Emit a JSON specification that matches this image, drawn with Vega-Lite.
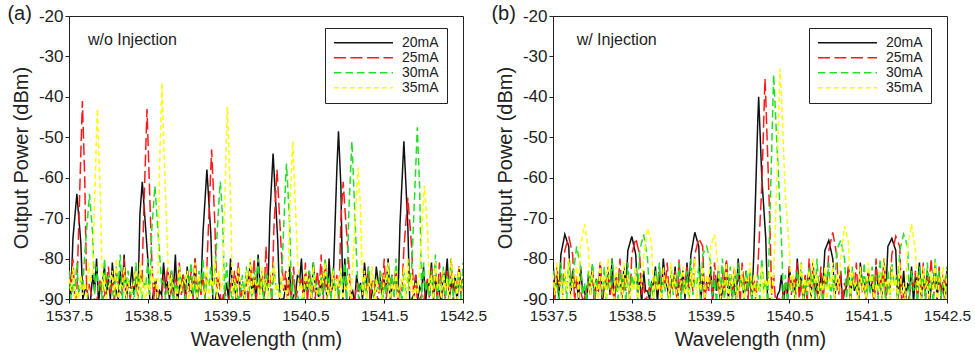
{
"$schema":"https://vega.github.io/schema/vega-lite/v6.json",
"padding":{"left":6,"top":3,"right":0,"bottom":0},
"bounds":"flush",
"spacing":90,
"config":{"font":"Liberation Sans","view":{"stroke":"#222","strokeWidth":1},
"axis":{"grid":false,"domainColor":"#222","tickColor":"#222","labelColor":"#222","titleColor":"#222","labelFontSize":16,"titleFontSize":20,"titleFontWeight":"normal","tickSize":4,"labelPadding":2,"labelFlush":false},
"legend":{"orient":"none","legendX":256,"legendY":12,"fillColor":"white","strokeColor":"#222","padding":8,"symbolType":"stroke","symbolSize":3481,"symbolStrokeWidth":1.5,"labelFontSize":14,"rowPadding":0,"clipHeight":13.5,"labelOffset":8,"labelColor":"#222"},
"title":{"fontSize":20,"fontWeight":"normal","anchor":"start","frame":"bounds","baseline":"middle","offset":0,"color":"#222"}},
"resolve":{"legend":{"color":"independent","strokeDash":"independent"}},
"datasets":{
"a":[
{"x":1537.50,"20mA":-82,"25mA":-84,"30mA":-83,"35mA":-85},
{"x":1537.55,"20mA":-75,"25mA":-80,"30mA":-86,"35mA":-82},
{"x":1537.60,"20mA":-64,"25mA":-88,"30mA":-81,"35mA":-88},
{"x":1537.65,"20mA":-76,"25mA":-54,"30mA":-85,"35mA":-84},
{"x":1537.70,"20mA":-88,"25mA":-60.5,"30mA":-78.8,"35mA":-86},
{"x":1537.75,"20mA":-91,"25mA":-86,"30mA":-66.5,"35mA":-81},
{"x":1537.80,"20mA":-84,"25mA":-90,"30mA":-73.8,"35mA":-83},
{"x":1537.85,"20mA":-80,"25mA":-91,"30mA":-82,"35mA":-48.7},
{"x":1537.90,"20mA":-86,"25mA":-85,"30mA":-86,"35mA":-65.8},
{"x":1537.95,"20mA":-82,"25mA":-89,"30mA":-80,"35mA":-84},
{"x":1538.00,"20mA":-85,"25mA":-82,"30mA":-84,"35mA":-87},
{"x":1538.05,"20mA":-81,"25mA":-86,"30mA":-88,"35mA":-83},
{"x":1538.10,"20mA":-88,"25mA":-83,"30mA":-82,"35mA":-80},
{"x":1538.15,"20mA":-83,"25mA":-88,"30mA":-79,"35mA":-86},
{"x":1538.20,"20mA":-79,"25mA":-80,"30mA":-85,"35mA":-82},
{"x":1538.25,"20mA":-86,"25mA":-85,"30mA":-83,"35mA":-85},
{"x":1538.30,"20mA":-82,"25mA":-87,"30mA":-87,"35mA":-88},
{"x":1538.35,"20mA":-84,"25mA":-82,"30mA":-81,"35mA":-83},
{"x":1538.40,"20mA":-69,"25mA":-84,"30mA":-84,"35mA":-81},
{"x":1538.45,"20mA":-66.4,"25mA":-67.7,"30mA":-86,"35mA":-84},
{"x":1538.50,"20mA":-80,"25mA":-49.2,"30mA":-80,"35mA":-86},
{"x":1538.55,"20mA":-91,"25mA":-80,"30mA":-73,"35mA":-82},
{"x":1538.60,"20mA":-85,"25mA":-86,"30mA":-64.8,"35mA":-85},
{"x":1538.65,"20mA":-88,"25mA":-90,"30mA":-79,"35mA":-56.5},
{"x":1538.70,"20mA":-81,"25mA":-84,"30mA":-85,"35mA":-49.9},
{"x":1538.75,"20mA":-86,"25mA":-82,"30mA":-88,"35mA":-78},
{"x":1538.80,"20mA":-83,"25mA":-88,"30mA":-83,"35mA":-84},
{"x":1538.85,"20mA":-79,"25mA":-85,"30mA":-86,"35mA":-87},
{"x":1538.90,"20mA":-87,"25mA":-81,"30mA":-82,"35mA":-82},
{"x":1538.95,"20mA":-84,"25mA":-84,"30mA":-89,"35mA":-85},
{"x":1539.00,"20mA":-82,"25mA":-87,"30mA":-84,"35mA":-83},
{"x":1539.05,"20mA":-88,"25mA":-83,"30mA":-81,"35mA":-86},
{"x":1539.10,"20mA":-80,"25mA":-80,"30mA":-86,"35mA":-81},
{"x":1539.15,"20mA":-85,"25mA":-86,"30mA":-83,"35mA":-84},
{"x":1539.20,"20mA":-73.7,"25mA":-84,"30mA":-80,"35mA":-88},
{"x":1539.25,"20mA":-58,"25mA":-82,"30mA":-85,"35mA":-82},
{"x":1539.30,"20mA":-74,"25mA":-57.5,"30mA":-82,"35mA":-85},
{"x":1539.35,"20mA":-91,"25mA":-71,"30mA":-84,"35mA":-80},
{"x":1539.40,"20mA":-89,"25mA":-84,"30mA":-66.8,"35mA":-83},
{"x":1539.45,"20mA":-90,"25mA":-90,"30mA":-69.8,"35mA":-86},
{"x":1539.50,"20mA":-86,"25mA":-91,"30mA":-81,"35mA":-48.3},
{"x":1539.55,"20mA":-80,"25mA":-86,"30mA":-88,"35mA":-65.5},
{"x":1539.60,"20mA":-86,"25mA":-83,"30mA":-86,"35mA":-85},
{"x":1539.65,"20mA":-82,"25mA":-81,"30mA":-90,"35mA":-82},
{"x":1539.70,"20mA":-88,"25mA":-88,"30mA":-84,"35mA":-87},
{"x":1539.75,"20mA":-84,"25mA":-85,"30mA":-82,"35mA":-83},
{"x":1539.80,"20mA":-81,"25mA":-82,"30mA":-87,"35mA":-80},
{"x":1539.85,"20mA":-85,"25mA":-80,"30mA":-83,"35mA":-84},
{"x":1539.90,"20mA":-79,"25mA":-86,"30mA":-80,"35mA":-86},
{"x":1539.95,"20mA":-86,"25mA":-83,"30mA":-85,"35mA":-82},
{"x":1540.00,"20mA":-84,"25mA":-77,"30mA":-83,"35mA":-85},
{"x":1540.05,"20mA":-69,"25mA":-84,"30mA":-86,"35mA":-83},
{"x":1540.10,"20mA":-57.7,"25mA":-72.7,"30mA":-82,"35mA":-81},
{"x":1540.15,"20mA":-76,"25mA":-61.7,"30mA":-88,"35mA":-86},
{"x":1540.20,"20mA":-90,"25mA":-80,"30mA":-84,"35mA":-84},
{"x":1540.25,"20mA":-87,"25mA":-83,"30mA":-60.1,"35mA":-88},
{"x":1540.30,"20mA":-82,"25mA":-86,"30mA":-71,"35mA":-68.8},
{"x":1540.35,"20mA":-89,"25mA":-82,"30mA":-85,"35mA":-55.5},
{"x":1540.40,"20mA":-84,"25mA":-88,"30mA":-89,"35mA":-80},
{"x":1540.45,"20mA":-80,"25mA":-85,"30mA":-90,"35mA":-86},
{"x":1540.50,"20mA":-86,"25mA":-81,"30mA":-87,"35mA":-83},
{"x":1540.55,"20mA":-83,"25mA":-84,"30mA":-83,"35mA":-85},
{"x":1540.60,"20mA":-81,"25mA":-87,"30mA":-81,"35mA":-82},
{"x":1540.65,"20mA":-88,"25mA":-83,"30mA":-86,"35mA":-88},
{"x":1540.70,"20mA":-85,"25mA":-79,"30mA":-84,"35mA":-84},
{"x":1540.75,"20mA":-82,"25mA":-80,"30mA":-80,"35mA":-81},
{"x":1540.80,"20mA":-80,"25mA":-86,"30mA":-85,"35mA":-86},
{"x":1540.85,"20mA":-87,"25mA":-82,"30mA":-82,"35mA":-83},
{"x":1540.90,"20mA":-57.5,"25mA":-84,"30mA":-86,"35mA":-85},
{"x":1540.95,"20mA":-62,"25mA":-70.5,"30mA":-83,"35mA":-82},
{"x":1541.00,"20mA":-80,"25mA":-67.3,"30mA":-81,"35mA":-87},
{"x":1541.05,"20mA":-91,"25mA":-81,"30mA":-68.8,"35mA":-84},
{"x":1541.10,"20mA":-88,"25mA":-90,"30mA":-55.5,"35mA":-82},
{"x":1541.15,"20mA":-84,"25mA":-86,"30mA":-80,"35mA":-64.4},
{"x":1541.20,"20mA":-86,"25mA":-91,"30mA":-86,"35mA":-67.9},
{"x":1541.25,"20mA":-81,"25mA":-84,"30mA":-84,"35mA":-83},
{"x":1541.30,"20mA":-83,"25mA":-82,"30mA":-82,"35mA":-86},
{"x":1541.35,"20mA":-88,"25mA":-85,"30mA":-88,"35mA":-82},
{"x":1541.40,"20mA":-82,"25mA":-88,"30mA":-85,"35mA":-85},
{"x":1541.45,"20mA":-85,"25mA":-83,"30mA":-83,"35mA":-88},
{"x":1541.50,"20mA":-84,"25mA":-80,"30mA":-86,"35mA":-84},
{"x":1541.55,"20mA":-80,"25mA":-86,"30mA":-81,"35mA":-81},
{"x":1541.60,"20mA":-86,"25mA":-84,"30mA":-84,"35mA":-86},
{"x":1541.65,"20mA":-83,"25mA":-82,"30mA":-80,"35mA":-83},
{"x":1541.70,"20mA":-71.7,"25mA":-87,"30mA":-87,"35mA":-85},
{"x":1541.75,"20mA":-51,"25mA":-77.5,"30mA":-83,"35mA":-82},
{"x":1541.80,"20mA":-72,"25mA":-65,"30mA":-85,"35mA":-80},
{"x":1541.85,"20mA":-90,"25mA":-77.5,"30mA":-82,"35mA":-84},
{"x":1541.90,"20mA":-84,"25mA":-84,"30mA":-57.5,"35mA":-86},
{"x":1541.95,"20mA":-87,"25mA":-90,"30mA":-62.5,"35mA":-83},
{"x":1542.00,"20mA":-82,"25mA":-91,"30mA":-81,"35mA":-64.8},
{"x":1542.05,"20mA":-86,"25mA":-85,"30mA":-86,"35mA":-73},
{"x":1542.10,"20mA":-81,"25mA":-82,"30mA":-83,"35mA":-84},
{"x":1542.15,"20mA":-85,"25mA":-84,"30mA":-79,"35mA":-81},
{"x":1542.20,"20mA":-88,"25mA":-81,"30mA":-85,"35mA":-86},
{"x":1542.25,"20mA":-83,"25mA":-86,"30mA":-82,"35mA":-83},
{"x":1542.30,"20mA":-80,"25mA":-83,"30mA":-84,"35mA":-85},
{"x":1542.35,"20mA":-86,"25mA":-80,"30mA":-80,"35mA":-80},
{"x":1542.40,"20mA":-84,"25mA":-85,"30mA":-86,"35mA":-84},
{"x":1542.45,"20mA":-82,"25mA":-82,"30mA":-83,"35mA":-82},
{"x":1542.50,"20mA":-85,"25mA":-84,"30mA":-81,"35mA":-86},
{"x":1538.43,"20mA":-61},{"x":1540.09,"20mA":-54},{"x":1540.92,"20mA":-48.5},
{"x":1537.67,"25mA":-41},{"x":1538.49,"25mA":-43},{"x":1539.31,"25mA":-53},{"x":1540.14,"25mA":-58},{"x":1540.98,"25mA":-61},
{"x":1537.76,"30mA":-64},{"x":1538.59,"30mA":-62},{"x":1539.42,"30mA":-61},{"x":1540.26,"30mA":-56.5},{"x":1541.09,"30mA":-51},{"x":1541.92,"30mA":-47.5},
{"x":1537.86,"35mA":-43},{"x":1538.68,"35mA":-36.5},{"x":1539.51,"35mA":-42.5},{"x":1540.34,"35mA":-51},{"x":1541.17,"35mA":-57.5},{"x":1542.01,"35mA":-62},
{"x":1537.525,"20mA":-89,"25mA":-87,"30mA":-90,"35mA":-88},
{"x":1537.575,"25mA":-91,"30mA":-88,"35mA":-90},
{"x":1537.625,"30mA":-89,"35mA":-91},
{"x":1537.675,"20mA":-90,"30mA":-87,"35mA":-89},
{"x":1537.725,"20mA":-87,"25mA":-89,"35mA":-90},
{"x":1537.775,"20mA":-90,"25mA":-88,"35mA":-86},
{"x":1537.825,"20mA":-88,"25mA":-90,"30mA":-89},
{"x":1537.875,"20mA":-91,"25mA":-87,"30mA":-88},
{"x":1537.925,"20mA":-86,"25mA":-90,"30mA":-91,"35mA":-88},
{"x":1537.975,"20mA":-89,"25mA":-86,"30mA":-87,"35mA":-90},
{"x":1538.025,"20mA":-90,"25mA":-89,"30mA":-88,"35mA":-86},
{"x":1538.075,"20mA":-87,"25mA":-91,"30mA":-90,"35mA":-89},
{"x":1538.125,"20mA":-90,"25mA":-86,"30mA":-87,"35mA":-91},
{"x":1538.175,"20mA":-88,"25mA":-89,"30mA":-90,"35mA":-87},
{"x":1538.225,"20mA":-91,"25mA":-88,"30mA":-86,"35mA":-90},
{"x":1538.275,"20mA":-87,"25mA":-90,"30mA":-89,"35mA":-88},
{"x":1538.325,"20mA":-89,"25mA":-87,"30mA":-91,"35mA":-86},
{"x":1538.375,"20mA":-90,"25mA":-89,"30mA":-88,"35mA":-90},
{"x":1538.425,"25mA":-86,"30mA":-90,"35mA":-89},
{"x":1538.475,"30mA":-87,"35mA":-91},
{"x":1538.525,"20mA":-90,"30mA":-89,"35mA":-88},
{"x":1538.575,"20mA":-88,"25mA":-90,"35mA":-87},
{"x":1538.625,"20mA":-91,"25mA":-88,"35mA":-90},
{"x":1538.675,"20mA":-89,"25mA":-91,"30mA":-86},
{"x":1538.725,"20mA":-87,"25mA":-89,"30mA":-90},
{"x":1538.775,"20mA":-90,"25mA":-86,"30mA":-88,"35mA":-89},
{"x":1538.825,"20mA":-88,"25mA":-90,"30mA":-91,"35mA":-87},
{"x":1538.875,"20mA":-91,"25mA":-87,"30mA":-89,"35mA":-90},
{"x":1538.925,"20mA":-86,"25mA":-89,"30mA":-87,"35mA":-88},
{"x":1538.975,"20mA":-90,"25mA":-91,"30mA":-90,"35mA":-86},
{"x":1539.025,"20mA":-88,"25mA":-88,"30mA":-86,"35mA":-91},
{"x":1539.075,"20mA":-89,"25mA":-90,"30mA":-89,"35mA":-87},
{"x":1539.125,"20mA":-91,"25mA":-87,"30mA":-91,"35mA":-90},
{"x":1539.175,"20mA":-87,"25mA":-89,"30mA":-88,"35mA":-88},
{"x":1539.225,"25mA":-90,"30mA":-90,"35mA":-89},
{"x":1539.275,"30mA":-87,"35mA":-91},
{"x":1539.325,"20mA":-90,"30mA":-89,"35mA":-87},
{"x":1539.375,"20mA":-88,"25mA":-88,"35mA":-90},
{"x":1539.425,"20mA":-91,"25mA":-90,"35mA":-88},
{"x":1539.475,"20mA":-89,"25mA":-87,"30mA":-90},
{"x":1539.525,"20mA":-90,"25mA":-91,"30mA":-88},
{"x":1539.575,"20mA":-87,"25mA":-89,"30mA":-91,"35mA":-89},
{"x":1539.625,"20mA":-91,"25mA":-86,"30mA":-87,"35mA":-90},
{"x":1539.675,"20mA":-88,"25mA":-90,"30mA":-89,"35mA":-87},
{"x":1539.725,"20mA":-90,"25mA":-88,"30mA":-91,"35mA":-91},
{"x":1539.775,"20mA":-86,"25mA":-91,"30mA":-88,"35mA":-88},
{"x":1539.825,"20mA":-89,"25mA":-87,"30mA":-90,"35mA":-90},
{"x":1539.875,"20mA":-91,"25mA":-90,"30mA":-86,"35mA":-87},
{"x":1539.925,"20mA":-87,"25mA":-88,"30mA":-89,"35mA":-91},
{"x":1539.975,"20mA":-90,"25mA":-90,"30mA":-91,"35mA":-88},
{"x":1540.025,"20mA":-88,"25mA":-87,"30mA":-88,"35mA":-90},
{"x":1540.075,"25mA":-91,"30mA":-90,"35mA":-86},
{"x":1540.125,"30mA":-87,"35mA":-89},
{"x":1540.175,"20mA":-91,"30mA":-89,"35mA":-91},
{"x":1540.225,"20mA":-90,"25mA":-88,"35mA":-88},
{"x":1540.275,"20mA":-88,"25mA":-91,"35mA":-90},
{"x":1540.325,"20mA":-91,"25mA":-89,"30mA":-90},
{"x":1540.375,"20mA":-89,"25mA":-90,"30mA":-91},
{"x":1540.425,"20mA":-86,"25mA":-87,"30mA":-91,"35mA":-88},
{"x":1540.475,"20mA":-90,"25mA":-89,"30mA":-90,"35mA":-91},
{"x":1540.525,"20mA":-88,"25mA":-91,"30mA":-88,"35mA":-87},
{"x":1540.575,"20mA":-91,"25mA":-86,"30mA":-90,"35mA":-90},
{"x":1540.625,"20mA":-87,"25mA":-90,"30mA":-87,"35mA":-88},
{"x":1540.675,"20mA":-90,"25mA":-88,"30mA":-91,"35mA":-91},
{"x":1540.725,"20mA":-89,"25mA":-91,"30mA":-89,"35mA":-86},
{"x":1540.775,"20mA":-91,"25mA":-87,"30mA":-86,"35mA":-90},
{"x":1540.825,"20mA":-88,"25mA":-90,"30mA":-90,"35mA":-88},
{"x":1540.875,"25mA":-88,"30mA":-88,"35mA":-91},
{"x":1540.925,"25mA":-91,"30mA":-91,"35mA":-87},
{"x":1540.975,"20mA":-90,"30mA":-87,"35mA":-90},
{"x":1541.025,"20mA":-91,"30mA":-90,"35mA":-88},
{"x":1541.075,"20mA":-89,"25mA":-90,"35mA":-91},
{"x":1541.125,"20mA":-91,"25mA":-91},
{"x":1541.175,"20mA":-88,"25mA":-89,"30mA":-90},
{"x":1541.225,"20mA":-90,"25mA":-91,"30mA":-88,"35mA":-89},
{"x":1541.275,"20mA":-87,"25mA":-88,"30mA":-91,"35mA":-90},
{"x":1541.325,"20mA":-91,"25mA":-90,"30mA":-87,"35mA":-87},
{"x":1541.375,"20mA":-89,"25mA":-87,"30mA":-90,"35mA":-91},
{"x":1541.425,"20mA":-86,"25mA":-91,"30mA":-88,"35mA":-88},
{"x":1541.475,"20mA":-90,"25mA":-88,"30mA":-91,"35mA":-90},
{"x":1541.525,"20mA":-88,"25mA":-90,"30mA":-89,"35mA":-86},
{"x":1541.575,"20mA":-91,"25mA":-86,"30mA":-87,"35mA":-91},
{"x":1541.625,"20mA":-87,"25mA":-89,"30mA":-90,"35mA":-88},
{"x":1541.675,"20mA":-90,"25mA":-91,"30mA":-88,"35mA":-90},
{"x":1541.725,"25mA":-88,"30mA":-91,"35mA":-87},
{"x":1541.775,"30mA":-89,"35mA":-91},
{"x":1541.825,"20mA":-91,"30mA":-86,"35mA":-88},
{"x":1541.875,"20mA":-89,"25mA":-90,"35mA":-90},
{"x":1541.925,"20mA":-90,"25mA":-91,"35mA":-89},
{"x":1541.975,"20mA":-88,"25mA":-89,"30mA":-90},
{"x":1542.025,"20mA":-91,"25mA":-87,"30mA":-88},
{"x":1542.075,"20mA":-87,"25mA":-90,"30mA":-91,"35mA":-88},
{"x":1542.125,"20mA":-90,"25mA":-88,"30mA":-87,"35mA":-91},
{"x":1542.175,"20mA":-88,"25mA":-91,"30mA":-90,"35mA":-87},
{"x":1542.225,"20mA":-91,"25mA":-86,"30mA":-88,"35mA":-90},
{"x":1542.275,"20mA":-86,"25mA":-90,"30mA":-91,"35mA":-88},
{"x":1542.325,"20mA":-90,"25mA":-88,"30mA":-87,"35mA":-91},
{"x":1542.375,"20mA":-88,"25mA":-91,"30mA":-90,"35mA":-86},
{"x":1542.425,"20mA":-91,"25mA":-87,"30mA":-88,"35mA":-90},
{"x":1542.475,"20mA":-87,"25mA":-90,"30mA":-91,"35mA":-88}
],
"b":[
{"x":1537.50,"20mA":-81,"25mA":-85,"30mA":-83,"35mA":-84},
{"x":1537.55,"20mA":-84,"25mA":-82,"30mA":-86,"35mA":-81},
{"x":1537.60,"20mA":-79,"25mA":-86,"30mA":-81,"35mA":-86},
{"x":1537.65,"20mA":-74,"25mA":-78,"30mA":-84,"35mA":-83},
{"x":1537.70,"20mA":-77,"25mA":-74.5,"30mA":-80,"35mA":-80},
{"x":1537.75,"20mA":-83,"25mA":-79,"30mA":-85,"35mA":-85},
{"x":1537.80,"20mA":-86,"25mA":-84,"30mA":-77,"35mA":-82},
{"x":1537.85,"20mA":-82,"25mA":-88,"30mA":-82,"35mA":-77},
{"x":1537.90,"20mA":-88,"25mA":-90,"30mA":-86,"35mA":-71.5},
{"x":1537.95,"20mA":-84,"25mA":-86,"30mA":-83,"35mA":-78},
{"x":1538.00,"20mA":-82,"25mA":-83,"30mA":-81,"35mA":-83},
{"x":1538.05,"20mA":-85,"25mA":-87,"30mA":-85,"35mA":-86},
{"x":1538.10,"20mA":-81,"25mA":-81,"30mA":-88,"35mA":-81},
{"x":1538.15,"20mA":-87,"25mA":-85,"30mA":-82,"35mA":-84},
{"x":1538.20,"20mA":-83,"25mA":-82,"30mA":-84,"35mA":-80},
{"x":1538.25,"20mA":-80,"25mA":-86,"30mA":-80,"35mA":-87},
{"x":1538.30,"20mA":-86,"25mA":-84,"30mA":-86,"35mA":-82},
{"x":1538.35,"20mA":-84,"25mA":-80,"30mA":-83,"35mA":-85},
{"x":1538.40,"20mA":-82,"25mA":-85,"30mA":-85,"35mA":-81},
{"x":1538.45,"20mA":-78,"25mA":-83,"30mA":-81,"35mA":-84},
{"x":1538.50,"20mA":-74.5,"25mA":-79,"30mA":-84,"35mA":-86},
{"x":1538.55,"20mA":-79,"25mA":-75,"30mA":-82,"35mA":-82},
{"x":1538.60,"20mA":-85,"25mA":-79,"30mA":-78,"35mA":-85},
{"x":1538.65,"20mA":-83,"25mA":-86,"30mA":-74,"35mA":-80},
{"x":1538.70,"20mA":-88,"25mA":-89,"30mA":-80,"35mA":-72.5},
{"x":1538.75,"20mA":-86,"25mA":-91,"30mA":-86,"35mA":-76},
{"x":1538.80,"20mA":-82,"25mA":-85,"30mA":-83,"35mA":-84},
{"x":1538.85,"20mA":-84,"25mA":-82,"30mA":-81,"35mA":-86},
{"x":1538.90,"20mA":-80,"25mA":-84,"30mA":-85,"35mA":-82},
{"x":1538.95,"20mA":-87,"25mA":-81,"30mA":-88,"35mA":-85},
{"x":1539.00,"20mA":-85,"25mA":-86,"30mA":-82,"35mA":-81},
{"x":1539.05,"20mA":-82,"25mA":-83,"30mA":-84,"35mA":-84},
{"x":1539.10,"20mA":-86,"25mA":-80,"30mA":-81,"35mA":-87},
{"x":1539.15,"20mA":-83,"25mA":-85,"30mA":-86,"35mA":-82},
{"x":1539.20,"20mA":-81,"25mA":-82,"30mA":-83,"35mA":-86},
{"x":1539.25,"20mA":-79,"25mA":-84,"30mA":-80,"35mA":-83},
{"x":1539.30,"20mA":-73.5,"25mA":-79,"30mA":-85,"35mA":-80},
{"x":1539.35,"20mA":-77,"25mA":-75,"30mA":-82,"35mA":-85},
{"x":1539.40,"20mA":-84,"25mA":-77,"30mA":-79,"35mA":-82},
{"x":1539.45,"20mA":-86,"25mA":-86,"30mA":-77,"35mA":-84},
{"x":1539.50,"20mA":-82,"25mA":-84,"30mA":-81,"35mA":-77},
{"x":1539.55,"20mA":-85,"25mA":-81,"30mA":-85,"35mA":-74},
{"x":1539.60,"20mA":-83,"25mA":-86,"30mA":-83,"35mA":-83},
{"x":1539.65,"20mA":-88,"25mA":-83,"30mA":-80,"35mA":-86},
{"x":1539.70,"20mA":-81,"25mA":-80,"30mA":-86,"35mA":-81},
{"x":1539.75,"20mA":-84,"25mA":-85,"30mA":-82,"35mA":-84},
{"x":1539.80,"20mA":-86,"25mA":-82,"30mA":-84,"35mA":-82},
{"x":1539.85,"20mA":-80,"25mA":-84,"30mA":-81,"35mA":-87},
{"x":1539.90,"20mA":-85,"25mA":-81,"30mA":-85,"35mA":-83},
{"x":1539.95,"20mA":-83,"25mA":-86,"30mA":-83,"35mA":-85},
{"x":1540.00,"20mA":-84,"25mA":-83,"30mA":-82,"35mA":-81},
{"x":1540.05,"20mA":-78,"25mA":-85,"30mA":-86,"35mA":-84},
{"x":1540.10,"20mA":-45,"25mA":-82,"30mA":-84,"35mA":-86},
{"x":1540.15,"20mA":-60,"25mA":-62,"30mA":-80,"35mA":-82},
{"x":1540.20,"20mA":-75,"25mA":-40,"30mA":-85,"35mA":-85},
{"x":1540.25,"20mA":-90,"25mA":-70,"30mA":-72,"35mA":-83},
{"x":1540.30,"20mA":-91,"25mA":-84,"30mA":-34.5,"35mA":-84},
{"x":1540.35,"20mA":-89,"25mA":-90,"30mA":-55,"35mA":-55},
{"x":1540.40,"20mA":-84,"25mA":-91,"30mA":-76,"35mA":-40},
{"x":1540.45,"20mA":-86,"25mA":-86,"30mA":-84,"35mA":-65},
{"x":1540.50,"20mA":-82,"25mA":-82,"30mA":-86,"35mA":-78},
{"x":1540.55,"20mA":-85,"25mA":-85,"30mA":-88,"35mA":-84},
{"x":1540.60,"20mA":-80,"25mA":-81,"30mA":-83,"35mA":-86},
{"x":1540.65,"20mA":-84,"25mA":-86,"30mA":-81,"35mA":-81},
{"x":1540.70,"20mA":-87,"25mA":-84,"30mA":-85,"35mA":-85},
{"x":1540.75,"20mA":-83,"25mA":-80,"30mA":-82,"35mA":-83},
{"x":1540.80,"20mA":-81,"25mA":-83,"30mA":-84,"35mA":-80},
{"x":1540.85,"20mA":-86,"25mA":-87,"30mA":-80,"35mA":-84},
{"x":1540.90,"20mA":-84,"25mA":-82,"30mA":-86,"35mA":-86},
{"x":1540.95,"20mA":-78,"25mA":-85,"30mA":-83,"35mA":-82},
{"x":1541.00,"20mA":-75.5,"25mA":-78,"30mA":-81,"35mA":-85},
{"x":1541.05,"20mA":-80,"25mA":-73.5,"30mA":-85,"35mA":-81},
{"x":1541.10,"20mA":-85,"25mA":-79,"30mA":-78,"35mA":-84},
{"x":1541.15,"20mA":-83,"25mA":-84,"30mA":-75.5,"35mA":-80},
{"x":1541.20,"20mA":-88,"25mA":-86,"30mA":-80,"35mA":-72},
{"x":1541.25,"20mA":-82,"25mA":-82,"30mA":-84,"35mA":-76},
{"x":1541.30,"20mA":-84,"25mA":-85,"30mA":-82,"35mA":-83},
{"x":1541.35,"20mA":-86,"25mA":-81,"30mA":-86,"35mA":-86},
{"x":1541.40,"20mA":-81,"25mA":-84,"30mA":-83,"35mA":-82},
{"x":1541.45,"20mA":-85,"25mA":-87,"30mA":-81,"35mA":-85},
{"x":1541.50,"20mA":-83,"25mA":-83,"30mA":-85,"35mA":-81},
{"x":1541.55,"20mA":-86,"25mA":-85,"30mA":-82,"35mA":-84},
{"x":1541.60,"20mA":-82,"25mA":-80,"30mA":-84,"35mA":-86},
{"x":1541.65,"20mA":-84,"25mA":-84,"30mA":-80,"35mA":-83},
{"x":1541.70,"20mA":-80,"25mA":-82,"30mA":-86,"35mA":-80},
{"x":1541.75,"20mA":-77,"25mA":-86,"30mA":-83,"35mA":-85},
{"x":1541.80,"20mA":-75,"25mA":-79,"30mA":-81,"35mA":-82},
{"x":1541.85,"20mA":-78,"25mA":-74.5,"30mA":-85,"35mA":-84},
{"x":1541.90,"20mA":-85,"25mA":-77,"30mA":-78,"35mA":-81},
{"x":1541.95,"20mA":-83,"25mA":-89,"30mA":-74,"35mA":-86},
{"x":1542.00,"20mA":-86,"25mA":-91,"30mA":-77,"35mA":-77},
{"x":1542.05,"20mA":-82,"25mA":-86,"30mA":-83,"35mA":-71.5},
{"x":1542.10,"20mA":-84,"25mA":-83,"30mA":-86,"35mA":-78},
{"x":1542.15,"20mA":-81,"25mA":-85,"30mA":-82,"35mA":-84},
{"x":1542.20,"20mA":-85,"25mA":-81,"30mA":-84,"35mA":-82},
{"x":1542.25,"20mA":-83,"25mA":-84,"30mA":-81,"35mA":-86},
{"x":1542.30,"20mA":-87,"25mA":-80,"30mA":-85,"35mA":-83},
{"x":1542.35,"20mA":-82,"25mA":-86,"30mA":-80,"35mA":-81},
{"x":1542.40,"20mA":-84,"25mA":-82,"30mA":-83,"35mA":-85},
{"x":1542.45,"20mA":-86,"25mA":-84,"30mA":-86,"35mA":-82},
{"x":1542.50,"20mA":-83,"25mA":-83,"30mA":-82,"35mA":-84},
{"x":1540.11,"20mA":-40},{"x":1540.19,"25mA":-35.5},{"x":1540.38,"35mA":-33},
{"x":1537.525,"20mA":-88,"25mA":-90,"30mA":-87,"35mA":-89},
{"x":1537.575,"20mA":-90,"25mA":-87,"30mA":-91,"35mA":-86},
{"x":1537.625,"25mA":-89,"30mA":-88,"35mA":-90},
{"x":1537.675,"30mA":-90,"35mA":-88},
{"x":1537.725,"20mA":-89,"30mA":-87,"35mA":-91},
{"x":1537.775,"20mA":-87,"25mA":-91,"35mA":-87},
{"x":1537.825,"20mA":-90,"25mA":-88,"35mA":-90},
{"x":1537.875,"20mA":-88,"25mA":-90,"30mA":-89},
{"x":1537.925,"20mA":-91,"25mA":-87,"30mA":-91},
{"x":1537.975,"20mA":-87,"25mA":-89,"30mA":-88,"35mA":-89},
{"x":1538.025,"20mA":-90,"25mA":-91,"30mA":-90,"35mA":-87},
{"x":1538.075,"20mA":-88,"25mA":-88,"30mA":-87,"35mA":-90},
{"x":1538.125,"20mA":-91,"25mA":-90,"30mA":-89,"35mA":-88},
{"x":1538.175,"20mA":-87,"25mA":-86,"30mA":-91,"35mA":-91},
{"x":1538.225,"20mA":-89,"25mA":-89,"30mA":-88,"35mA":-87},
{"x":1538.275,"20mA":-91,"25mA":-91,"30mA":-86,"35mA":-90},
{"x":1538.325,"20mA":-88,"25mA":-87,"30mA":-90,"35mA":-88},
{"x":1538.375,"20mA":-90,"25mA":-90,"30mA":-88,"35mA":-91},
{"x":1538.425,"20mA":-87,"25mA":-88,"30mA":-91,"35mA":-87},
{"x":1538.475,"25mA":-91,"30mA":-89,"35mA":-90},
{"x":1538.525,"30mA":-87,"35mA":-88},
{"x":1538.575,"20mA":-89,"30mA":-90,"35mA":-91},
{"x":1538.625,"20mA":-91,"25mA":-89,"35mA":-87},
{"x":1538.675,"20mA":-88,"25mA":-91},
{"x":1538.725,"20mA":-90,"25mA":-87,"30mA":-89},
{"x":1538.775,"20mA":-87,"25mA":-90,"30mA":-91,"35mA":-90},
{"x":1538.825,"20mA":-91,"25mA":-88,"30mA":-87,"35mA":-88},
{"x":1538.875,"20mA":-89,"25mA":-91,"30mA":-90,"35mA":-91},
{"x":1538.925,"20mA":-86,"25mA":-87,"30mA":-88,"35mA":-87},
{"x":1538.975,"20mA":-90,"25mA":-90,"30mA":-91,"35mA":-90},
{"x":1539.025,"20mA":-88,"25mA":-88,"30mA":-89,"35mA":-88},
{"x":1539.075,"20mA":-91,"25mA":-91,"30mA":-87,"35mA":-91},
{"x":1539.125,"20mA":-87,"25mA":-89,"30mA":-90,"35mA":-86},
{"x":1539.175,"20mA":-90,"25mA":-86,"30mA":-88,"35mA":-89},
{"x":1539.225,"20mA":-88,"25mA":-90,"30mA":-91,"35mA":-90},
{"x":1539.275,"25mA":-88,"30mA":-89,"35mA":-87},
{"x":1539.325,"30mA":-86,"35mA":-91},
{"x":1539.375,"20mA":-91,"30mA":-90,"35mA":-88},
{"x":1539.425,"20mA":-89,"25mA":-91,"35mA":-90},
{"x":1539.475,"20mA":-87,"25mA":-88,"35mA":-87},
{"x":1539.525,"20mA":-90,"25mA":-90,"30mA":-89},
{"x":1539.575,"20mA":-88,"25mA":-87,"30mA":-91},
{"x":1539.625,"20mA":-91,"25mA":-91,"30mA":-88,"35mA":-90},
{"x":1539.675,"20mA":-86,"25mA":-89,"30mA":-90,"35mA":-88},
{"x":1539.725,"20mA":-90,"25mA":-86,"30mA":-87,"35mA":-91},
{"x":1539.775,"20mA":-88,"25mA":-90,"30mA":-91,"35mA":-87},
{"x":1539.825,"20mA":-91,"25mA":-88,"30mA":-89,"35mA":-90},
{"x":1539.875,"20mA":-87,"25mA":-91,"30mA":-86,"35mA":-88},
{"x":1539.925,"20mA":-90,"25mA":-87,"30mA":-90,"35mA":-91},
{"x":1539.975,"20mA":-88,"25mA":-90,"30mA":-88,"35mA":-86},
{"x":1540.025,"20mA":-91,"25mA":-88,"30mA":-91,"35mA":-89},
{"x":1540.075,"25mA":-91,"30mA":-87,"35mA":-91},
{"x":1540.125,"30mA":-90,"35mA":-88},
{"x":1540.175,"30mA":-88,"35mA":-90},
{"x":1540.225,"20mA":-91,"30mA":-91,"35mA":-87},
{"x":1540.275,"20mA":-90,"25mA":-89,"35mA":-91},
{"x":1540.325,"20mA":-91,"25mA":-91},
{"x":1540.375,"20mA":-88,"25mA":-90},
{"x":1540.425,"20mA":-91,"25mA":-88,"30mA":-90},
{"x":1540.475,"20mA":-89,"25mA":-91,"30mA":-91},
{"x":1540.525,"20mA":-87,"25mA":-89,"30mA":-88,"35mA":-88},
{"x":1540.575,"20mA":-90,"25mA":-86,"30mA":-90,"35mA":-91},
{"x":1540.625,"20mA":-88,"25mA":-90,"30mA":-87,"35mA":-87},
{"x":1540.675,"20mA":-91,"25mA":-88,"30mA":-91,"35mA":-90},
{"x":1540.725,"20mA":-86,"25mA":-91,"30mA":-89,"35mA":-88},
{"x":1540.775,"20mA":-90,"25mA":-87,"30mA":-86,"35mA":-91},
{"x":1540.825,"20mA":-88,"25mA":-90,"30mA":-90,"35mA":-86},
{"x":1540.875,"20mA":-91,"25mA":-88,"30mA":-88,"35mA":-90},
{"x":1540.925,"20mA":-87,"25mA":-91,"30mA":-91,"35mA":-88},
{"x":1540.975,"25mA":-87,"30mA":-87,"35mA":-91},
{"x":1541.025,"30mA":-90,"35mA":-87},
{"x":1541.075,"20mA":-90,"30mA":-88,"35mA":-90},
{"x":1541.125,"20mA":-88,"25mA":-89,"35mA":-88},
{"x":1541.175,"20mA":-91,"25mA":-91},
{"x":1541.225,"20mA":-87,"25mA":-88,"30mA":-90},
{"x":1541.275,"20mA":-90,"25mA":-90,"30mA":-91,"35mA":-90},
{"x":1541.325,"20mA":-88,"25mA":-87,"30mA":-87,"35mA":-87},
{"x":1541.375,"20mA":-91,"25mA":-91,"30mA":-90,"35mA":-91},
{"x":1541.425,"20mA":-86,"25mA":-88,"30mA":-88,"35mA":-88},
{"x":1541.475,"20mA":-90,"25mA":-90,"30mA":-91,"35mA":-90},
{"x":1541.525,"20mA":-88,"25mA":-86,"30mA":-89,"35mA":-86},
{"x":1541.575,"20mA":-91,"25mA":-91,"30mA":-87,"35mA":-91},
{"x":1541.625,"20mA":-87,"25mA":-89,"30mA":-90,"35mA":-88},
{"x":1541.675,"20mA":-90,"25mA":-87,"30mA":-88,"35mA":-90},
{"x":1541.725,"20mA":-88,"25mA":-90,"30mA":-91,"35mA":-87},
{"x":1541.775,"25mA":-88,"30mA":-89,"35mA":-91},
{"x":1541.825,"30mA":-86,"35mA":-88},
{"x":1541.875,"20mA":-91,"30mA":-90,"35mA":-90},
{"x":1541.925,"20mA":-89,"25mA":-91,"35mA":-89},
{"x":1541.975,"20mA":-90,"25mA":-90,"35mA":-91},
{"x":1542.025,"20mA":-88,"25mA":-89,"30mA":-90},
{"x":1542.075,"20mA":-91,"25mA":-87,"30mA":-88},
{"x":1542.125,"20mA":-87,"25mA":-90,"30mA":-91,"35mA":-88},
{"x":1542.175,"20mA":-90,"25mA":-88,"30mA":-87,"35mA":-91},
{"x":1542.225,"20mA":-88,"25mA":-91,"30mA":-90,"35mA":-87},
{"x":1542.275,"20mA":-91,"25mA":-86,"30mA":-88,"35mA":-90},
{"x":1542.325,"20mA":-86,"25mA":-90,"30mA":-91,"35mA":-88},
{"x":1542.375,"20mA":-90,"25mA":-88,"30mA":-87,"35mA":-91},
{"x":1542.425,"20mA":-88,"25mA":-91,"30mA":-90,"35mA":-86},
{"x":1542.475,"20mA":-91,"25mA":-87,"30mA":-88,"35mA":-90}
]},
"hconcat":[
{"width":394,"height":283,
"title":{"text":"(a)","dx":-4,"dy":21},
"layer":[
{"data":{"name":"a"},
"transform":[{"fold":["20mA","25mA","30mA","35mA"],"as":["current","dBm"]},{"filter":"isValid(datum.dBm)"}],
"mark":{"type":"line","clip":true,"strokeWidth":1.5},
"encoding":{
"x":{"field":"x","type":"quantitative","scale":{"domain":[1537.5,1542.5],"nice":false},"axis":{"values":[1537.5,1538.5,1539.5,1540.5,1541.5,1542.5],"format":".1f","labelPadding":5,"titlePadding":6,"labelFontSize":15.5},"title":"Wavelength (nm)"},
"y":{"field":"dBm","type":"quantitative","scale":{"domain":[-90,-20],"nice":false},"axis":{"values":[-90,-80,-70,-60,-50,-40,-30,-20],"labelExpr":"replace(datum.label,'\u2212','-')","labelFontSize":17,"titlePadding":7},"title":"Output Power (dBm)"},
"color":{"field":"current","type":"nominal","scale":{"domain":["20mA","25mA","30mA","35mA"],"range":["#111111","#ff1a1a","#22e022","#ffff00"]},"legend":{"title":null}},
"strokeDash":{"field":"current","type":"nominal","scale":{"domain":["20mA","25mA","30mA","35mA"],"range":[[1,0],[12,4.5],[7.5,4],[5,3]]},"legend":{"title":null}}
}},
{"data":{"values":[{"x":1537.74,"y":-26,"label":"w/o Injection"}]},
"mark":{"type":"text","align":"left","baseline":"middle","fontSize":16,"color":"#222"},
"encoding":{"x":{"field":"x","type":"quantitative"},"y":{"field":"y","type":"quantitative"},"text":{"field":"label"}}}
]},
{"width":394,"height":283,
"title":{"text":"(b)","dx":-4,"dy":21},
"layer":[
{"data":{"name":"b"},
"transform":[{"fold":["20mA","25mA","30mA","35mA"],"as":["current","dBm"]},{"filter":"isValid(datum.dBm)"}],
"mark":{"type":"line","clip":true,"strokeWidth":1.5},
"encoding":{
"x":{"field":"x","type":"quantitative","scale":{"domain":[1537.5,1542.5],"nice":false},"axis":{"values":[1537.5,1538.5,1539.5,1540.5,1541.5,1542.5],"format":".1f","labelPadding":5,"titlePadding":6,"labelFontSize":15.5},"title":"Wavelength (nm)"},
"y":{"field":"dBm","type":"quantitative","scale":{"domain":[-90,-20],"nice":false},"axis":{"values":[-90,-80,-70,-60,-50,-40,-30,-20],"labelExpr":"replace(datum.label,'\u2212','-')","labelFontSize":17,"titlePadding":7},"title":"Output Power (dBm)"},
"color":{"field":"current","type":"nominal","scale":{"domain":["20mA","25mA","30mA","35mA"],"range":["#111111","#ff1a1a","#22e022","#ffff00"]},"legend":{"title":null}},
"strokeDash":{"field":"current","type":"nominal","scale":{"domain":["20mA","25mA","30mA","35mA"],"range":[[1,0],[12,4.5],[7.5,4],[5,3]]},"legend":{"title":null}}
}},
{"data":{"values":[{"x":1537.80,"y":-26,"label":"w/ Injection"}]},
"mark":{"type":"text","align":"left","baseline":"middle","fontSize":16,"color":"#222"},
"encoding":{"x":{"field":"x","type":"quantitative"},"y":{"field":"y","type":"quantitative"},"text":{"field":"label"}}}
]}
]
}
